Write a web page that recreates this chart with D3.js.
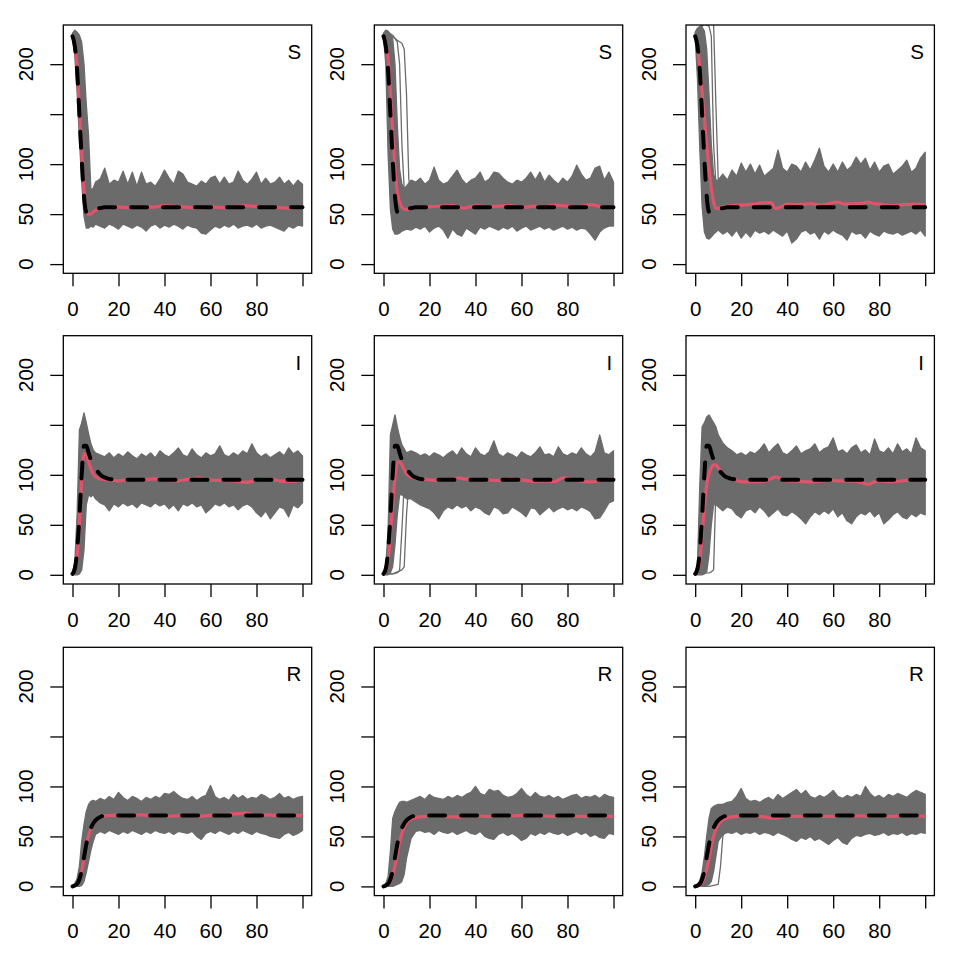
<!DOCTYPE html>
<html><head><meta charset="utf-8">
<script src="https://cdn.jsdelivr.net/npm/d3@7"></script>
<style>body{margin:0;background:#fff} svg{display:block} text{font-family:"Liberation Sans",Arial,Helvetica,sans-serif}</style>
</head><body><svg id="c" width="960" height="960"></svg>
<script>
// ---------------- data ----------------
const compartments = ["S", "I", "R"];
const xTicks = [0, 20, 40, 60, 80, 100];
const xTickLabels = ["0", "20", "40", "60", "80", ""];
const yTicks = [0, 50, 100, 150, 200];
const yTickLabels = ["0", "50", "100", "", "200"];

// time grid of the envelope (min / max) of the grey simulated trajectories
const tEnv = [0,1,2,3,4,5,6,7,8,9,10,12,14,16,18,20,22,24,26,28,30,32,34,36,38,40,42,44,46,48,50,52,54,56,58,60,62,64,66,68,70,72,74,76,78,80,82,84,86,88,90,92,94,96,98,100];

const upS1 = [231,234,232,229,222,200,160,128,74,76,82,85,96,80,84,82,93,80,92,78,92,80,82,78,85,94,86,80,93,90,82,80,78,83,80,86,88,80,87,80,82,93,84,80,85,92,80,86,80,82,87,80,84,78,84,80];
const loS1 = [228,208,172,125,82,48,36,36,38,37,40,38,36,40,38,35,40,38,36,39,37,33,38,40,36,39,37,40,38,35,39,37,36,31,30,34,38,36,39,37,40,36,38,39,37,40,36,38,39,37,35,33,38,36,39,38];
const upS2 = [231,234,233,230,226,200,140,95,80,76,78,84,82,86,80,84,97,84,80,82,88,94,85,80,84,86,92,82,85,92,91,86,82,80,84,82,86,92,84,92,82,89,84,80,86,82,88,99,90,84,86,96,98,84,92,82];
const loS2 = [227,200,110,55,35,30,30,31,33,34,35,34,37,35,38,32,36,38,34,26,35,30,28,36,33,30,37,35,38,36,34,37,35,38,33,36,38,34,36,38,35,37,34,36,38,35,37,34,36,35,30,24,32,36,38,38];
const upS3 = [232,236,238,237,233,215,170,120,90,84,84,90,84,94,88,101,92,100,90,99,88,92,96,114,96,92,100,98,92,102,94,104,116,98,92,100,92,102,94,98,107,100,106,94,102,92,98,100,90,94,98,104,92,96,106,112];
const loS3 = [226,185,115,58,32,26,25,27,30,32,34,30,33,28,34,26,32,27,34,31,33,30,34,31,28,33,21,25,32,34,30,32,25,33,30,34,31,29,24,33,30,31,26,33,30,28,33,31,30,32,29,31,33,30,34,28];
const upI1 = [3,12,60,145,152,162,152,141,131,125,122,120,118,122,117,121,118,123,119,116,121,118,122,117,124,120,118,122,127,120,118,126,120,117,122,119,121,129,120,118,122,119,124,121,131,122,118,121,117,120,123,119,127,121,124,119];
const loI1 = [0,0,0,1,5,25,70,80,78,80,76,72,70,64,71,68,72,69,71,67,72,70,68,72,69,71,66,70,64,71,69,72,68,70,62,66,71,69,72,68,70,65,69,71,68,62,58,64,56,62,68,66,58,70,67,72];
const upI2 = [3,8,45,140,150,160,148,138,130,126,122,124,122,119,121,118,122,120,117,121,124,119,127,121,118,127,121,119,123,134,121,118,122,120,117,123,120,118,122,128,120,121,118,128,121,119,122,120,127,121,118,123,140,122,120,124];
const loI2 = [0,0,0,2,8,30,60,80,80,78,76,76,73,70,68,66,62,56,64,68,66,70,67,69,64,68,66,62,60,68,66,61,62,68,65,62,58,67,66,60,64,68,63,66,68,65,67,64,68,66,63,56,57,64,72,74];
const upI3 = [3,10,90,148,152,158,160,156,152,148,140,132,127,124,120,122,119,123,121,125,131,122,127,131,122,120,124,129,121,124,126,131,122,126,128,137,123,125,121,127,130,122,125,120,136,124,122,127,121,131,123,126,121,137,127,124];
const loI3 = [0,0,0,0,1,3,20,50,70,70,68,64,68,66,60,57,64,66,62,68,64,58,62,66,60,59,63,60,56,51,58,63,60,64,61,66,58,62,54,51,58,62,60,64,58,62,51,55,60,63,58,56,61,58,62,60];
const upR1 = [1,3,8,20,45,62,75,82,85,86,85,88,86,90,87,94,89,86,90,88,85,89,87,90,88,93,92,95,91,88,87,90,86,89,91,101,90,87,89,86,92,88,91,87,89,88,92,90,87,89,93,88,90,87,89,90];
const loR1 = [0,0,0,0,1,5,14,25,36,45,52,55,53,56,54,52,55,53,56,54,52,55,53,56,54,53,55,52,55,54,53,55,50,47,53,55,53,56,54,52,55,53,56,54,52,55,53,52,50,49,48,52,54,51,53,56];
const upR2 = [1,3,10,35,68,75,80,84,85,85,84,86,88,90,87,92,89,88,87,90,88,91,89,92,94,100,93,91,97,95,96,91,89,90,93,98,92,89,94,90,89,91,88,90,87,89,91,92,88,90,89,91,88,92,90,89];
const loR2 = [0,0,0,0,0,1,2,3,5,12,28,48,55,56,54,55,52,56,54,53,55,52,54,56,53,52,55,50,48,47,52,54,51,53,50,46,48,53,51,54,52,55,53,52,54,51,53,55,52,54,50,52,49,48,53,52];
const upR3 = [1,2,6,14,30,50,68,78,80,81,82,82,84,85,90,98,88,85,86,84,87,89,86,92,88,91,94,97,92,96,90,88,91,89,92,96,90,88,91,89,92,90,100,93,89,91,88,92,90,93,91,89,93,96,94,92];
const loR3 = [0,0,0,0,0,1,2,5,15,30,45,52,54,53,55,52,54,53,55,52,54,53,51,54,52,50,47,45,49,47,50,46,48,45,42,46,49,44,42,48,51,50,52,53,51,52,54,51,53,52,54,51,53,52,54,53];

// single late trajectories standing out of the grey band
const outS2aT = [0,2,4,6,8,9,10,11,12,14];  const outS2aV = [228,231,228,224,221,215,170,85,70,74];
const outS2bT = [0,2,4,6,7,8,9,10];         const outS2bV = [228,232,229,222,200,120,75,72];
const outS3aT = [0,2,4,6,8,9,10,11,12];     const outS3aV = [230,237,242,244,240,160,85,75,80];
const outS3bT = [0,2,4,6,7,8,9,10];         const outS3bV = [229,236,240,238,228,120,80,78];
const outI2aT = [0,4,7,8,9,10,11,12,14];    const outI2aV = [1,1,4,5,8,60,92,98,96];
const outI2bT = [0,4,6,7,8,9,10];           const outI2bV = [1,1,2,4,45,90,95];
const outI3aT = [0,6,7,8,9,10,12];          const outI3aV = [1,2,3,5,85,90,88];
const outR3aT = [0,6,8,10,11,12,13,14];     const outR3aV = [0,0,1,2,20,50,56,58];

// mean of the simulations (red)
const tMean = [0,1,2,3,4,5,6,7,8,9,10,11,12,14,16,18,20,25,30,33,35,38,40,45,50,55,60,62,65,70,73,75,78,80,85,90,95,100];
const meanS1 = [228,220,196,156,112,74,54,49.5,50,52,54,55,55.5,56,56.5,57,57,56.5,57.5,57,57,58,58.5,57.5,57,56,57,57,56.5,57.5,58,58.5,58,57.5,57,56.5,56,57];
const meanS2 = [228,222,205,172,132,96,72,62,57,55,54.5,55,56,56.5,57,57,57.5,58,58.5,57,56,57.5,58.5,57.5,58,58.5,57,57,58,57.5,58.5,59,58.5,58,57.5,59.5,57.5,57.5];
const meanS3 = [228,218,196,172,145,120,95,76,62,56,55.5,56.5,57.5,58,58.5,59,59,60,61.5,61.5,55.5,58,60,59.5,60.5,59,61.5,62,60,60.5,61,62,60.5,60,58.5,59.5,60,59.5];
const meanI1 = [1,5,18,52,96,121,120,113,106,101,98,97,96,95.5,95,94.5,94,95.5,95,95.5,96,95.5,95,94,95.5,97,95,94.5,94.5,94,93,92.5,93.5,95,96,94,93.5,95];
const meanI2 = [1,4,14,40,70,98,112,113,110,105,101,99,97.5,96.5,96,95.5,95,94.5,95,97,96,95.5,95,95,94.5,96,95,94.5,93.5,94,93.5,93.5,97,96.5,94,93,94.5,96];
const meanI3 = [1,4,15,40,68,90,101,107,110,110,107,104,101,98,96,94.5,93,93,93.5,96,98,95,94,93.5,93,94,94.5,94,94,93.5,92,90.5,93,94,93,94,95,94.5];
const meanR1 = [0,1,2.5,6.5,15,28,41,51,57.5,62,65.5,67.5,69,70.5,71,71,70.5,71,71.5,71,70.5,70,70,70.5,71,70,71,71,71.5,72.5,73,73.5,72,71,71.5,70.5,71,71];
const meanR2 = [0,0.5,2,5,11,21,33,44,53,59,63.5,66,67.5,69,69.5,70,70,70,69.5,69.5,70,70.5,70.5,70,70,70.5,71,71,70.5,70.5,70,70,70,70,70,70,70,70];
const meanR3 = [0,0.5,1.5,4,9,17,28,40,50,57,61.5,64.5,66.5,68.5,69.5,70,70.5,70.5,69.5,68.5,68.5,69.5,70,70,70.5,70,70,70,70.5,70.5,70.5,70,70,70,70,70.5,70.5,70];

// deterministic solution (black dashed), same in each column
const tDet = [0,1,2,3,4,5,6,7,8,9,10,11,12,13,14,15,17,20,100];
const detS = [228,218,194,150,105,68,52,50,51.5,53,54.5,55.5,56,56.5,56.8,57,57,57,57];
const detI = [1,6,24,58,100,129,129,122,115,110,106,103,100.5,98.5,97.5,96.5,95.5,95,95];
const detR = [0,1,2.5,7,16,29,42,52,58.5,63,66,68,69.5,70.3,70.7,71,71,71,71];

// ---------------- panel table ----------------
const det = {S: detS, I: detI, R: detR};
const panels = [
  {c:"S", col:0, up:upS1, lo:loS1, mean:meanS1, out:[]},
  {c:"S", col:1, up:upS2, lo:loS2, mean:meanS2, out:[[outS2aT,outS2aV],[outS2bT,outS2bV]]},
  {c:"S", col:2, up:upS3, lo:loS3, mean:meanS3, out:[[outS3aT,outS3aV],[outS3bT,outS3bV]]},
  {c:"I", col:0, up:upI1, lo:loI1, mean:meanI1, out:[]},
  {c:"I", col:1, up:upI2, lo:loI2, mean:meanI2, out:[[outI2aT,outI2aV],[outI2bT,outI2bV]]},
  {c:"I", col:2, up:upI3, lo:loI3, mean:meanI3, out:[[outI3aT,outI3aV]]},
  {c:"R", col:0, up:upR1, lo:loR1, mean:meanR1, out:[]},
  {c:"R", col:1, up:upR2, lo:loR2, mean:meanR2, out:[]},
  {c:"R", col:2, up:upR3, lo:loR3, mean:meanR3, out:[[outR3aT,outR3aV]]}
];

// ---------------- layout ----------------
const colLeft = [63.3, 374.3, 686.0];
const rowTop = [25, 335.7, 647.3];
const W = 248.4, H = 248.3;
const GREY = "#6b6b6b", RED = "#DF536B";
const FS = 20.5;

const svg = d3.select("#c");

panels.forEach((p, k) => {
  const row = compartments.indexOf(p.c);
  const L = colLeft[p.col], T = rowTop[row];
  const x = d3.scaleLinear().domain([-4, 104]).range([L, L + W]);
  const y = d3.scaleLinear().domain([-9.2, 239.2]).range([T + H, T]);
  const g = svg.append("g");
  const cid = "clip" + k;
  g.append("clipPath").attr("id", cid).append("rect")
    .attr("x", L).attr("y", T).attr("width", W).attr("height", H);
  const plot = g.append("g").attr("clip-path", `url(#${cid})`);

  // grey band of simulated trajectories
  const area = d3.area()
    .x((d, i) => x(tEnv[i]))
    .y0((d, i) => y(p.lo[i]))
    .y1((d, i) => y(p.up[i]));
  plot.append("path").datum(tEnv).attr("d", area)
    .attr("fill", GREY).attr("stroke", GREY).attr("stroke-width", 1.3)
    .attr("stroke-linejoin", "round");

  const line = d3.line();
  p.out.forEach(([ts, vs]) => {
    plot.append("path")
      .attr("d", line(ts.map((t, i) => [x(t), y(vs[i])])))
      .attr("fill", "none").attr("stroke", GREY).attr("stroke-width", 1.3)
      .attr("stroke-linejoin", "round");
  });

  // mean (red)
  const smooth = d3.line().curve(d3.curveMonotoneX);
  plot.append("path")
    .attr("d", smooth(tMean.map((t, i) => [x(t), y(p.mean[i])])))
    .attr("fill", "none").attr("stroke", RED).attr("stroke-width", 3.2)
    .attr("stroke-linejoin", "round");

  // deterministic (black dashed)
  const dv = det[p.c];
  plot.append("path")
    .attr("d", smooth(tDet.map((t, i) => [x(t), y(dv[i])])))
    .attr("fill", "none").attr("stroke", "#000").attr("stroke-width", 4)
    .attr("stroke-dasharray", "16,16").attr("stroke-linecap", "round");

  // axes
  const ax = g.append("g").attr("transform", `translate(0,${T + H})`)
    .call(d3.axisBottom(x).tickValues(xTicks).tickFormat((d, i) => xTickLabels[i])
      .tickSize(13).tickPadding(15));
  ax.select(".domain").remove();
  ax.selectAll("line").attr("stroke", "#000").attr("stroke-width", 1.3);
  ax.selectAll("text").attr("font-size", FS).attr("fill", "#000")
    .attr("font-family", '"Liberation Sans", Arial, sans-serif');

  const ay = g.append("g").attr("transform", `translate(${L},0)`)
    .call(d3.axisLeft(y).tickValues(yTicks).tickFormat("").tickSize(13));
  ay.select(".domain").remove();
  ay.selectAll("line").attr("stroke", "#000").attr("stroke-width", 1.3);
  g.selectAll(null).data(yTicks).enter().append("text")
    .attr("transform", d => `translate(${L - 30},${y(d)}) rotate(-90)`)
    .attr("text-anchor", "middle").attr("font-size", FS).attr("fill", "#000")
    .text((d, i) => yTickLabels[i]);

  // box
  g.append("rect").attr("x", L).attr("y", T).attr("width", W).attr("height", H)
    .attr("fill", "none").attr("stroke", "#000").attr("stroke-width", 1.3);

  // compartment label
  g.append("text").attr("x", L + W - 10.5).attr("y", T + 34)
    .attr("text-anchor", "end").attr("font-size", FS).attr("fill", "#000")
    .text(p.c);
});
</script></body></html>
